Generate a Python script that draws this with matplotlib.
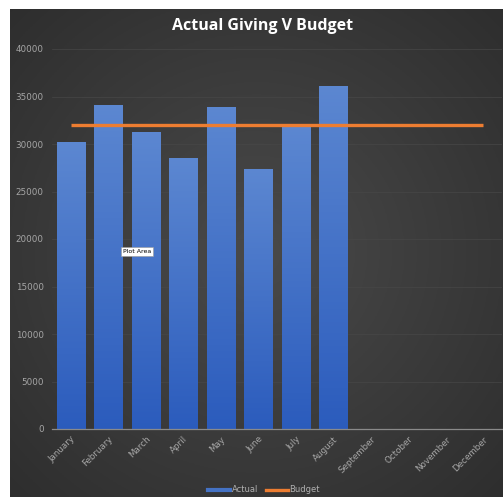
import numpy as np
import matplotlib
matplotlib.use("Agg")
import matplotlib.pyplot as plt
from matplotlib.lines import Line2D

months = ["January", "February", "March", "April", "May", "June",
          "July", "August", "September", "October", "November", "December"]
actual = [30200, 34100, 31300, 28500, 33900, 27400, 31800, 36150]
budget = [31950] * 12
yticks = [0, 5000, 10000, 15000, 20000, 25000, 30000, 35000, 40000]

W, H = 503, 497
fig = plt.figure(figsize=(W / 100, H / 100), dpi=100, facecolor="white")

# dark radial background of the chart area
bg = fig.add_axes([10 / W, 0, 1 - 10 / W, 1 - 9 / H])
yy, xx = np.mgrid[-1:1:200j, -1:1:200j]
r = np.sqrt(xx ** 2 + yy ** 2) / np.sqrt(2)
shade = 0.29 - 0.11 * r
bg.imshow(np.dstack([shade, shade, shade]), aspect="auto", extent=[0, 1, 0, 1])
bg.set_axis_off()

ax = fig.add_axes([52 / W, 1 - 429 / H, 450 / W, (429 - 49) / H])
ax.set_facecolor("none")
x = np.arange(len(months))

bars = ax.bar(x[:len(actual)], actual, width=0.75, color="#4472C4", zorder=2)
# vertical gradient inside each bar
grad = np.linspace(0, 1, 100).reshape(-1, 1)
top_c = np.array([0.36, 0.53, 0.82])
bot_c = np.array([0.17, 0.36, 0.74])
img = bot_c + (top_c - bot_c) * grad
for b in bars:
    x0, w, h = b.get_x(), b.get_width(), b.get_height()
    im = ax.imshow(img[:, None, :].repeat(2, axis=1), origin="lower", aspect="auto",
                   extent=[x0, x0 + w, 0, h], zorder=2.5)
    im.set_clip_path(b)
    b.set_facecolor("none")

ax.plot(x, budget, color="#ED7D31", lw=2.4, solid_capstyle="butt", zorder=3)

ax.set_xlim(-0.5, len(months) - 0.5)
ax.set_ylim(0, 40000)
ax.set_yticks(yticks)
ax.set_yticklabels([str(v) for v in yticks])
ax.set_xticks(x)
ax.set_xticklabels(months, rotation=45, ha="right", rotation_mode="anchor")
ax.tick_params(axis="both", length=0, colors="#a6a6a6", labelsize=6.3)
ax.tick_params(axis="y", pad=6)
ax.tick_params(axis="x", pad=4)
ax.grid(axis="y", color="#474747", lw=0.5, zorder=0)
for s in ["top", "right", "left"]:
    ax.spines[s].set_visible(False)
ax.spines["bottom"].set_color("#8a8a8a")
ax.spines["bottom"].set_linewidth(0.9)

fig.text(0.522, 1 - 26 / H, "Actual Giving V Budget", ha="center", va="center",
         color="white", fontsize=11.5, fontweight="bold", family="Open Sans")

ax.text(1.77, 18700, "Plot Area", fontsize=4.5, color="black",
        ha="center", va="center", zorder=5,
        bbox=dict(boxstyle="square,pad=0.35", fc="white", ec="#999999", lw=0.4))

handles = [Line2D([], [], color="#4472C4", lw=3),
           Line2D([], [], color="#ED7D31", lw=2.4)]
fig.legend(handles, ["Actual", "Budget"], loc="center", bbox_to_anchor=(0.525, 1 - 490 / H),
           ncol=2, frameon=False, fontsize=6, labelcolor="#b0b0b0",
           handlelength=2.6, handletextpad=0.2, columnspacing=1.0)

fig.savefig("out.png", dpi=100, facecolor="white")
